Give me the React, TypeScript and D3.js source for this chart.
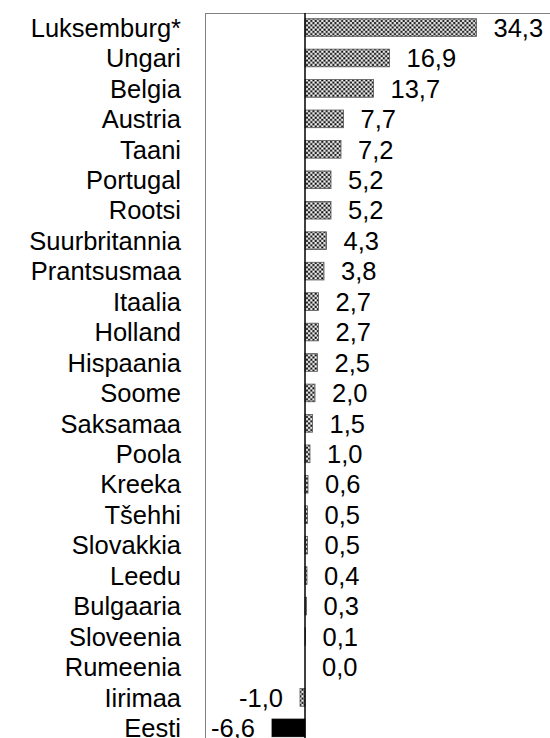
import React from 'react';
import * as d3 from 'd3';

const countries = [
  'Luksemburg*', 'Ungari', 'Belgia', 'Austria', 'Taani', 'Portugal', 'Rootsi',
  'Suurbritannia', 'Prantsusmaa', 'Itaalia', 'Holland', 'Hispaania', 'Soome',
  'Saksamaa', 'Poola', 'Kreeka', 'Tšehhi', 'Slovakkia', 'Leedu', 'Bulgaaria',
  'Sloveenia', 'Rumeenia', 'Iirimaa', 'Eesti'
];

const values = [
  34.3, 16.9, 13.7, 7.7, 7.2, 5.2, 5.2, 4.3, 3.8, 2.7, 2.7, 2.5, 2.0, 1.5, 1.0,
  0.6, 0.5, 0.5, 0.4, 0.3, 0.1, 0.0, -1.0, -6.6
];

const highlight = 'Eesti';

const W = 550;
const H = 738;

const fmt = (v: number) => d3.format('.1f')(v).replace('.', ',').replace('−', '-');

const App = () => {
  // 5px per unit, zero line at x=305
  const x = d3.scaleLinear().domain([-6.6, 34.3]).range([272, 476.5]);
  const y = d3
    .scaleBand<string>()
    .domain(countries)
    .range([12.3, 12.3 + countries.length * 30.45])
    .paddingInner(0.42)
    .paddingOuter(0.21);

  const font = '"Liberation Sans", Arial, sans-serif';
  const fs = 25.5;

  return (
    <svg
      width={W}
      height={H}
      style={{ position: 'absolute', left: 0, top: 0, background: '#fff' }}
    >
      <defs>
        <pattern id="checker" width={4.4} height={4.4} patternUnits="userSpaceOnUse">
          <rect width={4.4} height={4.4} fill="#9a9a9a" />
          <rect x={0.2} y={0.2} width={1.8} height={1.8} fill="#000" />
          <rect x={2.4} y={2.4} width={1.8} height={1.8} fill="#000" />
          <rect x={2.4} y={0.2} width={1.8} height={1.8} fill="#fff" />
          <rect x={0.2} y={2.4} width={1.8} height={1.8} fill="#fff" />
        </pattern>
      </defs>

      {/* plot frame */}
      <rect x={205.5} y={13.5} width={400} height={800} fill="none" stroke="#808080" strokeWidth={1} />

      {countries.map((c, i) => {
        const v = values[i];
        const y0 = y(c)!;
        const cy = y0 + y.bandwidth() / 2;
        const x0 = x(Math.min(0, v));
        const x1 = x(Math.max(0, v));
        return (
          <g key={c}>
            {v !== 0 && (
              <rect
                x={x0}
                y={y0}
                width={x1 - x0}
                height={y.bandwidth()}
                fill={c === highlight ? '#000' : 'url(#checker)'}
                stroke={c === highlight ? '#000' : '#555'}
                strokeWidth={0.8}
              />
            )}
            <text
              x={181}
              y={cy}
              dy="0.36em"
              textAnchor="end"
              fontFamily={font}
              fontSize={fs}
              fill="#000"
            >
              {c}
            </text>
            <text
              x={v < 0 ? x(v) - 17 : x(v) + 17}
              y={cy}
              dy="0.36em"
              textAnchor={v < 0 ? 'end' : 'start'}
              fontFamily={font}
              fontSize={fs}
              fill="#000"
            >
              {fmt(v)}
            </text>
          </g>
        );
      })}

      {/* zero line */}
      <line x1={x(0)} x2={x(0)} y1={13} y2={H} stroke="#000" strokeWidth={1.5} />
    </svg>
  );
};

export default App;
